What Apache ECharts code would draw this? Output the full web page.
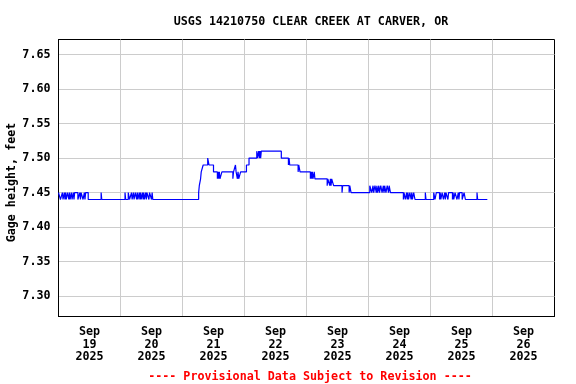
<!DOCTYPE html>
<html>
<head>
<meta charset="utf-8">
<script src="https://cdn.jsdelivr.net/npm/echarts@6/dist/echarts.min.js"></script>
<style>html,body{margin:0;padding:0;background:#fff}#c{width:576px;height:384px}</style>
</head>
<body>
<div id="c"></div>
<script>
// Hours since 2025-09-19 00:00 at which the gage height changed, and the new value (feet)
const changeHours = [
  0,0.75,1.5,1.75,2.25,2.5,2.75,3,3.5,4,4.25,4.5,5,5.25,5.75,6,6.25,7.5,8.25,8.5,8.75,9.5,10,10.25,10.5,11.5,
  16.5,16.75,
  25.75,26,27,27.5,28.25,28.5,29,29.25,29.75,30.25,30.5,30.75,31.25,31.5,31.75,32,32.5,32.75,33,33.25,33.75,34,34.25,35,35.25,36,36.25,36.5,
  54.25,54.5,55,55.25,56,57.75,58.25,60,61.5,61.75,62,62.25,62.5,63.25,67.5,67.75,68.5,68.75,69.25,69.5,69.75,70.5,72.75,73.75,
  76.75,77,77.5,77.75,78,78.25,78.5,86.25,89,89.25,89.5,92.75,93,93.5,
  97.5,97.75,98,98.25,98.5,99,99.25,104,104.25,105,105.25,105.5,105.75,106.5,109.75,110,112.5,112.75,113.25,
  120.5,121.25,121.75,122,122.5,123,123.25,123.5,124,124.25,124.75,125.25,125.75,126,126.25,126.75,127.25,127.75,128,128.5,
  133.5,133.75,134.25,134.75,135,135.25,135.5,136,136.5,136.75,137,137.5,138,
  142,142.25,
  145.25,145.75,146.25,147.5,147.75,148,148.5,149,149.5,149.75,150,150.75,151,152.5,152.75,153,153.5,154.25,154.75,155,155.25,156.25,157,157.5,
  162,162.25,166
];
const gageHeight = [
  7.45,7.44,7.45,7.44,7.45,7.44,7.45,7.44,7.45,7.44,7.45,7.44,7.45,7.44,7.45,7.44,7.45,7.44,7.45,7.44,7.45,7.44,7.45,7.44,7.45,7.44,
  7.45,7.44,
  7.45,7.44,7.45,7.44,7.45,7.44,7.45,7.44,7.45,7.44,7.45,7.44,7.45,7.44,7.45,7.44,7.45,7.44,7.45,7.44,7.45,7.44,7.45,7.44,7.45,7.44,7.45,7.44,
  7.45,7.46,7.47,7.48,7.49,7.50,7.49,7.48,7.47,7.48,7.47,7.48,7.47,7.48,7.47,7.48,7.49,7.48,7.47,7.48,7.47,7.48,7.49,7.50,
  7.51,7.50,7.51,7.50,7.51,7.50,7.51,7.50,7.49,7.50,7.49,7.48,7.49,7.48,
  7.47,7.48,7.47,7.48,7.47,7.48,7.47,7.46,7.47,7.46,7.47,7.46,7.47,7.46,7.45,7.46,7.45,7.46,7.45,
  7.46,7.45,7.46,7.45,7.46,7.45,7.46,7.45,7.46,7.45,7.46,7.45,7.46,7.45,7.46,7.45,7.46,7.45,7.46,7.45,
  7.44,7.45,7.44,7.45,7.44,7.45,7.44,7.45,7.44,7.45,7.44,7.45,7.44,
  7.45,7.44,
  7.45,7.44,7.45,7.44,7.45,7.44,7.45,7.44,7.45,7.44,7.45,7.44,7.45,7.44,7.45,7.44,7.45,7.44,7.45,7.44,7.45,7.44,7.45,7.44,
  7.45,7.44,7.44
];
const yTicks = [7.30,7.35,7.40,7.45,7.50,7.55,7.60,7.65];
const dayLines = [24,48,72,96,120,144,168];
const labelHours = [12,36,60,84,108,132,156,180];
const xLabels = ['Sep\n19\n2025','Sep\n20\n2025','Sep\n21\n2025','Sep\n22\n2025','Sep\n23\n2025','Sep\n24\n2025','Sep\n25\n2025','Sep\n26\n2025'];
const yTitle = 'Gage height, feet';

const FONT = 'DejaVu Sans Mono';
const chart = echarts.init(document.getElementById('c'), null, {renderer: 'canvas'});
chart.setOption({
  animation: false,
  backgroundColor: '#ffffff',
  title: [{
    text: 'USGS 14210750 CLEAR CREEK AT CARVER, OR',
    left: 306, top: 11, textAlign: 'center',
    textStyle: {fontFamily: FONT, fontWeight: 'bold', fontSize: 11.7, color: '#000'}
  }, {
    text: '---- Provisional Data Subject to Revision ----',
    left: 305, top: 366, textAlign: 'center',
    textStyle: {fontFamily: FONT, fontWeight: 'bold', fontSize: 11.7, color: '#ff0000'}
  }],
  graphic: [{
    type: 'text', x: 12, y: 182.5, rotation: Math.PI / 2,
    style: {text: yTitle, fontFamily: FONT, fontWeight: 'bold', fontSize: 11.7, fill: '#000',
            align: 'center', verticalAlign: 'middle'}
  }],
  grid: {left: 58.5, right: 21.5, top: 39.5, bottom: 67.5, show: true, borderColor: '#000', borderWidth: 1,
         containLabel: false, outerBoundsMode: 'none'},
  xAxis: {
    type: 'value', min: 0, max: 192,
    axisLine: {show: true, lineStyle: {color: '#000', width: 1}},
    axisTick: {show: false, customValues: dayLines},
    splitLine: {show: true, lineStyle: {color: '#cccccc', width: 1}},
    axisLabel: {
      customValues: labelHours,
      margin: 9,
      fontFamily: FONT, fontWeight: 'bold', fontSize: 11.7, color: '#000', lineHeight: 12.7,
      formatter: function (v) { return xLabels[Math.round((v - 12) / 24)]; }
    }
  },
  yAxis: {
    type: 'value', min: 7.2706, max: 7.6717,
    axisLine: {show: true, lineStyle: {color: '#000', width: 1}},
    axisTick: {show: false, customValues: yTicks},
    splitLine: {show: true, lineStyle: {color: '#cccccc', width: 1}},
    axisLabel: {
      customValues: yTicks,
      margin: 8,
      fontFamily: FONT, fontWeight: 'bold', fontSize: 11.7, color: '#000',
      formatter: function (v) { return v.toFixed(2); }
    }
  },
  series: [{
    type: 'line',
    step: 'end',
    showSymbol: false,
    symbol: 'none',
    lineStyle: {color: '#0000ff', width: 1.2},
    data: changeHours.map(function (h, i) { return [h, gageHeight[i]]; })
  }]
});
</script>
</body>
</html>
